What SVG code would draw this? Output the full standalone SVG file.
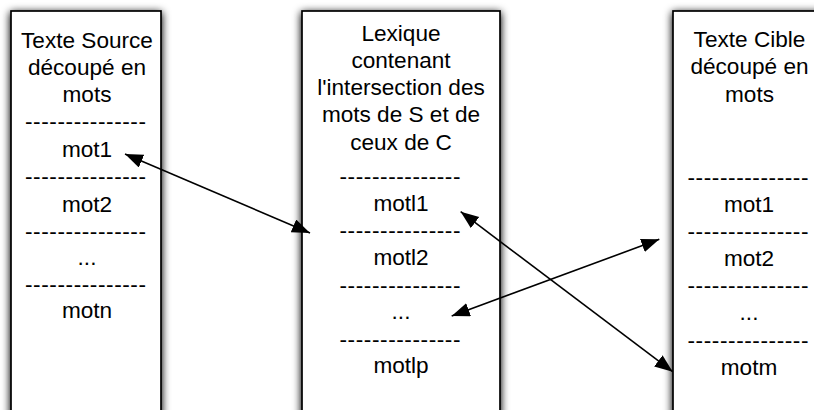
<svg xmlns="http://www.w3.org/2000/svg" width="814" height="410" viewBox="0 0 814 410">
  <style>
    .box { fill: #ffffff; stroke: #000000; stroke-width: 1.7; }
    .t { font-family: "Liberation Sans", Arial, Helvetica, sans-serif; font-size: 22.6px; fill: #000000; text-anchor: middle; }
    .conn { stroke: #000000; stroke-width: 1.6; fill: none; marker-start: url(#ah); marker-end: url(#ah); }
  </style>
  <defs>
    <filter id="sh" x="-20%" y="-10%" width="140%" height="120%">
      <feGaussianBlur in="SourceAlpha" stdDeviation="4.5"/>
      <feOffset dx="0" dy="2" result="b"/>
      <feComponentTransfer><feFuncA type="linear" slope="1.1"/></feComponentTransfer>
      <feMerge><feMergeNode/><feMergeNode in="SourceGraphic"/></feMerge>
    </filter>
    <marker id="ah" markerUnits="userSpaceOnUse" markerWidth="20" markerHeight="16" refX="18" refY="7" orient="auto-start-reverse" viewBox="0 0 20 16">
      <path d="M0,0 L18,7 L0,14 Z" fill="#000000"/>
    </marker>
  </defs>
  <rect width="814" height="410" fill="#ffffff"/>

  <g id="source">
    <rect class="box" x="11" y="11" width="150" height="420" filter="url(#sh)"/>
    <text class="t" x="87" y="47.5">Texte Source</text>
    <text class="t" x="87" y="74.6">découpé en</text>
    <text class="t" x="87" y="101.7">mots</text>
    <text class="t" x="85.5" y="129" textLength="121" lengthAdjust="spacing">---------------</text>
    <text class="t" x="87" y="157">mot1</text>
    <text class="t" x="85.5" y="184" textLength="121" lengthAdjust="spacing">---------------</text>
    <text class="t" x="87" y="211.7">mot2</text>
    <text class="t" x="85.5" y="238.7" textLength="121" lengthAdjust="spacing">---------------</text>
    <text class="t" x="87" y="265">...</text>
    <text class="t" x="85.5" y="292" textLength="121" lengthAdjust="spacing">---------------</text>
    <text class="t" x="87" y="318.3">motn</text>
  </g>

  <g id="lexique">
    <rect class="box" x="302" y="11" width="198" height="420" filter="url(#sh)"/>
    <text class="t" x="401" y="40.7">Lexique</text>
    <text class="t" x="401" y="68">contenant</text>
    <text class="t" x="401" y="95.2">l'intersection des</text>
    <text class="t" x="401" y="122.4">mots de S et de</text>
    <text class="t" x="401" y="149.5">ceux de C</text>
    <text class="t" x="400" y="183.5" textLength="121" lengthAdjust="spacing">---------------</text>
    <text class="t" x="401" y="210.6">motl1</text>
    <text class="t" x="400" y="238.2" textLength="121" lengthAdjust="spacing">---------------</text>
    <text class="t" x="401" y="264.6">motl2</text>
    <text class="t" x="400" y="293" textLength="121" lengthAdjust="spacing">---------------</text>
    <text class="t" x="401" y="319.3">...</text>
    <text class="t" x="400" y="347.3" textLength="121" lengthAdjust="spacing">---------------</text>
    <text class="t" x="401" y="373.3">motlp</text>
  </g>

  <g id="cible">
    <rect class="box" x="673" y="11" width="153" height="420" filter="url(#sh)"/>
    <text class="t" x="749.5" y="46.7">Texte Cible</text>
    <text class="t" x="749.5" y="74.3">découpé en</text>
    <text class="t" x="749.5" y="101.7">mots</text>
    <text class="t" x="748" y="184.6" textLength="121" lengthAdjust="spacing">---------------</text>
    <text class="t" x="749" y="211.7">mot1</text>
    <text class="t" x="748" y="239" textLength="121" lengthAdjust="spacing">---------------</text>
    <text class="t" x="749" y="265.5">mot2</text>
    <text class="t" x="748" y="293.3" textLength="121" lengthAdjust="spacing">---------------</text>
    <text class="t" x="749" y="320">...</text>
    <text class="t" x="748" y="348" textLength="121" lengthAdjust="spacing">---------------</text>
    <text class="t" x="749" y="375">motm</text>
  </g>

  <g id="connectors">
    <line class="conn" x1="125" y1="154" x2="310" y2="233"/>
    <line class="conn" x1="460.7" y1="211.7" x2="672.7" y2="371.7"/>
    <line class="conn" x1="451.7" y1="316" x2="659.3" y2="239.3"/>
  </g>
</svg>
